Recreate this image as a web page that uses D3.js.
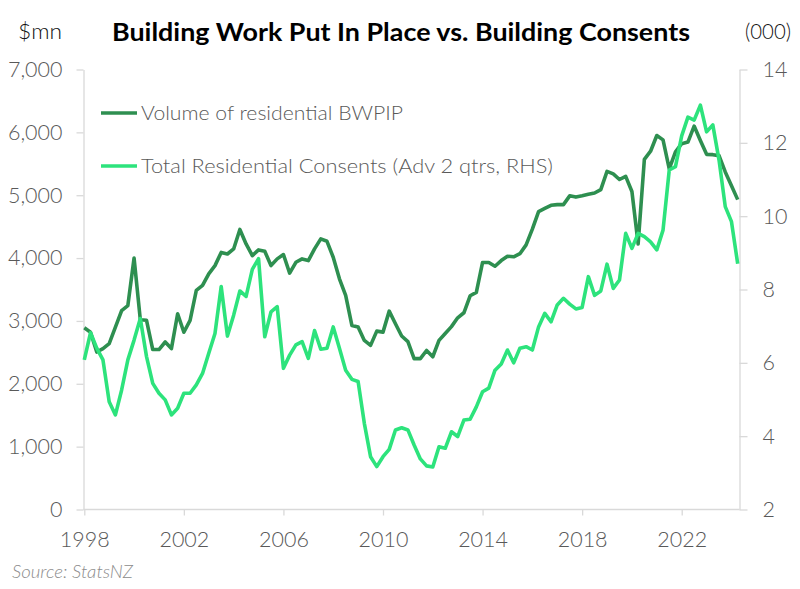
<!DOCTYPE html>
<html>
<head>
<meta charset="utf-8">
<script src="https://cdn.jsdelivr.net/npm/d3@7"></script>
<style>
  html, body { margin: 0; padding: 0; background: #fff; }
  svg { display: block; }
</style>
</head>
<body>
<svg id="chart" width="800" height="589"></svg>
<script>
// ---- Data (quarterly, starting 1998 Q1) ----
const startYear = 1998;
const bwpip = [
  2890, 2820, 2505, 2560, 2640, 2900, 3165, 3245, 4000, 3020,
  3010, 2545, 2545, 2665, 2560, 3115, 2820, 3010, 3485, 3565,
  3750, 3880, 4090, 4065, 4145, 4455, 4225, 4040, 4130, 4108,
  3881, 3987, 4056, 3760, 3933, 3987, 3960, 4146, 4305, 4267,
  4013, 3670, 3405, 2929, 2902, 2690, 2611, 2838, 2822, 3156,
  2956, 2760, 2670, 2400, 2400, 2530, 2430, 2690, 2800, 2910,
  3050, 3130, 3400, 3455, 3930, 3930, 3870, 3960, 4030, 4020,
  4070, 4210, 4460, 4740, 4790, 4840, 4850, 4850, 4990, 4970,
  4990, 5015, 5035, 5090, 5380, 5340, 5250, 5300, 5060, 4225,
  5570, 5700, 5950, 5880, 5420, 5690, 5820, 5845, 6100, 5870,
  5650, 5645, 5630, 5370, 5150, 4930
];
const consents = [
  6.08, 6.82, 6.40, 6.08, 4.94, 4.58, 5.26, 6.08, 6.62, 7.21,
  6.17, 5.44, 5.17, 4.99, 4.58, 4.76, 5.17, 5.17, 5.40, 5.71,
  6.26, 6.80, 8.08, 6.73, 7.30, 7.96, 7.81, 8.55, 8.84, 6.71,
  7.39, 7.53, 5.85, 6.21, 6.49, 6.58, 6.12, 6.88, 6.37, 6.40,
  6.98, 6.40, 5.80, 5.55, 5.49, 4.35, 3.44, 3.17, 3.44, 3.64,
  4.17, 4.23, 4.17, 3.76, 3.38, 3.19, 3.16, 3.71, 3.67, 4.12,
  3.99, 4.44, 4.46, 4.80, 5.21, 5.31, 5.80, 5.97, 6.35, 6.00,
  6.40, 6.44, 6.35, 6.98, 7.35, 7.12, 7.58, 7.76, 7.60, 7.47,
  7.51, 8.35, 7.84, 7.96, 8.69, 8.03, 8.26, 9.53, 9.12, 9.53,
  9.44, 9.30, 9.08, 9.62, 11.26, 11.35, 12.19, 12.70, 12.62, 13.03,
  12.30, 12.49, 11.53, 10.26, 9.85, 8.70
];
const quarters = bwpip.map((_, i) => startYear + i / 4);
const xTicks = [1998, 2002, 2006, 2010, 2014, 2018, 2022];
const leftTicks = [0, 1000, 2000, 3000, 4000, 5000, 6000, 7000];
const rightTicks = [2, 4, 6, 8, 10, 12, 14];
const seriesNames = ["Volume of residential BWPIP", "Total Residential Consents (Adv 2 qtrs, RHS)"];

// ---- Layout ----
const svg = d3.select("#chart");
const plotLeft = 83.5, plotRight = 739.5, plotTop = 69.5, plotBottom = 509.5;
const darkGreen = "#2e8f50", lightGreen = "#2de37c";
const axisColor = "#d9d9d9", labelColor = "#595959";
const font = "Lato, 'Open Sans', sans-serif";

const x = d3.scaleLinear().domain([1998, 2022]).range([84.3, 681.7]);
const yL = d3.scaleLinear().domain([0, 7000]).range([plotBottom, plotTop]);
const yR = d3.scaleLinear().domain([2, 14]).range([plotBottom, plotTop]);

// Left axis
const gL = svg.append("g").attr("transform", `translate(${plotLeft},0)`)
  .call(d3.axisLeft(yL).tickValues(leftTicks).tickFormat(d3.format(",")).tickSize(7).tickSizeOuter(0).tickPadding(14));
// Right axis
const gR = svg.append("g").attr("transform", `translate(${plotRight},0)`)
  .call(d3.axisRight(yR).tickValues(rightTicks).tickFormat(d3.format("d")).tickSize(8).tickSizeOuter(0).tickPadding(15));
// Bottom axis
const gB = svg.append("g").attr("transform", `translate(0,${plotBottom})`)
  .call(d3.axisBottom(x).tickValues(xTicks).tickFormat(d3.format("d")).tickSize(6).tickSizeOuter(0).tickPadding(15));
gB.select(".domain").attr("d", `M${plotLeft},0H${plotRight}`);

[gL, gR, gB].forEach(g => {
  g.selectAll(".domain").attr("stroke", axisColor).attr("stroke-width", 1.3);
  g.selectAll(".tick line").attr("stroke", axisColor).attr("stroke-width", 1.3);
  g.selectAll(".tick text").attr("fill", labelColor).style("font-family", font)
    .style("font-weight", "300").style("font-size", "21.5px");
});
gB.selectAll(".tick text").attr("dy", "0.75em");

// Lines
const lineL = d3.line().x((d, i) => x(quarters[i])).y(d => yL(d));
const lineR = d3.line().x((d, i) => x(quarters[i])).y(d => yR(d));

svg.append("path").datum(bwpip).attr("d", lineL)
  .attr("fill", "none").attr("stroke", darkGreen).attr("stroke-width", 3.6)
  .attr("stroke-linejoin", "round");
svg.append("path").datum(consents).attr("d", lineR)
  .attr("fill", "none").attr("stroke", lightGreen).attr("stroke-width", 3.6)
  .attr("stroke-linejoin", "round");

// Legend
const legendItems = [
  { name: seriesNames[0], color: darkGreen, y: 113, len: 262 },
  { name: seriesNames[1], color: lightGreen, y: 166, len: 412 }
];
legendItems.forEach(it => {
  svg.append("line").attr("x1", 101).attr("x2", 137).attr("y1", it.y).attr("y2", it.y)
    .attr("stroke", it.color).attr("stroke-width", 3.6);
  svg.append("text").attr("x", 141).attr("y", it.y).attr("dy", "0.35em")
    .attr("fill", labelColor).style("font-family", font).style("font-weight", "300").style("font-size", "20px")
    .attr("textLength", it.len).attr("lengthAdjust", "spacingAndGlyphs")
    .text(it.name);
});

// Titles
svg.append("text").attr("x", 401).attr("y", 32).attr("dy", "0.35em").attr("text-anchor", "middle")
  .attr("fill", "#000").style("font-family", font).style("font-weight", "700").style("font-size", "25px")
  .attr("textLength", 578).attr("lengthAdjust", "spacingAndGlyphs")
  .text("Building Work Put In Place vs. Building Consents");
svg.append("text").attr("x", 18).attr("y", 32).attr("dy", "0.35em")
  .attr("fill", "#111").style("font-family", font).style("font-weight", "300").style("font-size", "21px")
  .attr("textLength", 44).attr("lengthAdjust", "spacingAndGlyphs")
  .text("$mn");
svg.append("text").attr("x", 745).attr("y", 32).attr("dy", "0.35em")
  .attr("fill", "#111").style("font-family", font).style("font-weight", "300").style("font-size", "21px")
  .attr("textLength", 46).attr("lengthAdjust", "spacingAndGlyphs")
  .text("(000)");
svg.append("text").attr("x", 12).attr("y", 572).attr("dy", "0.35em")
  .attr("fill", "#8c8c8c").style("font-family", font).style("font-style", "italic").style("font-weight", "300").style("font-size", "17px")
  .attr("textLength", 121).attr("lengthAdjust", "spacingAndGlyphs")
  .text("Source: StatsNZ");
</script>
</body>
</html>
